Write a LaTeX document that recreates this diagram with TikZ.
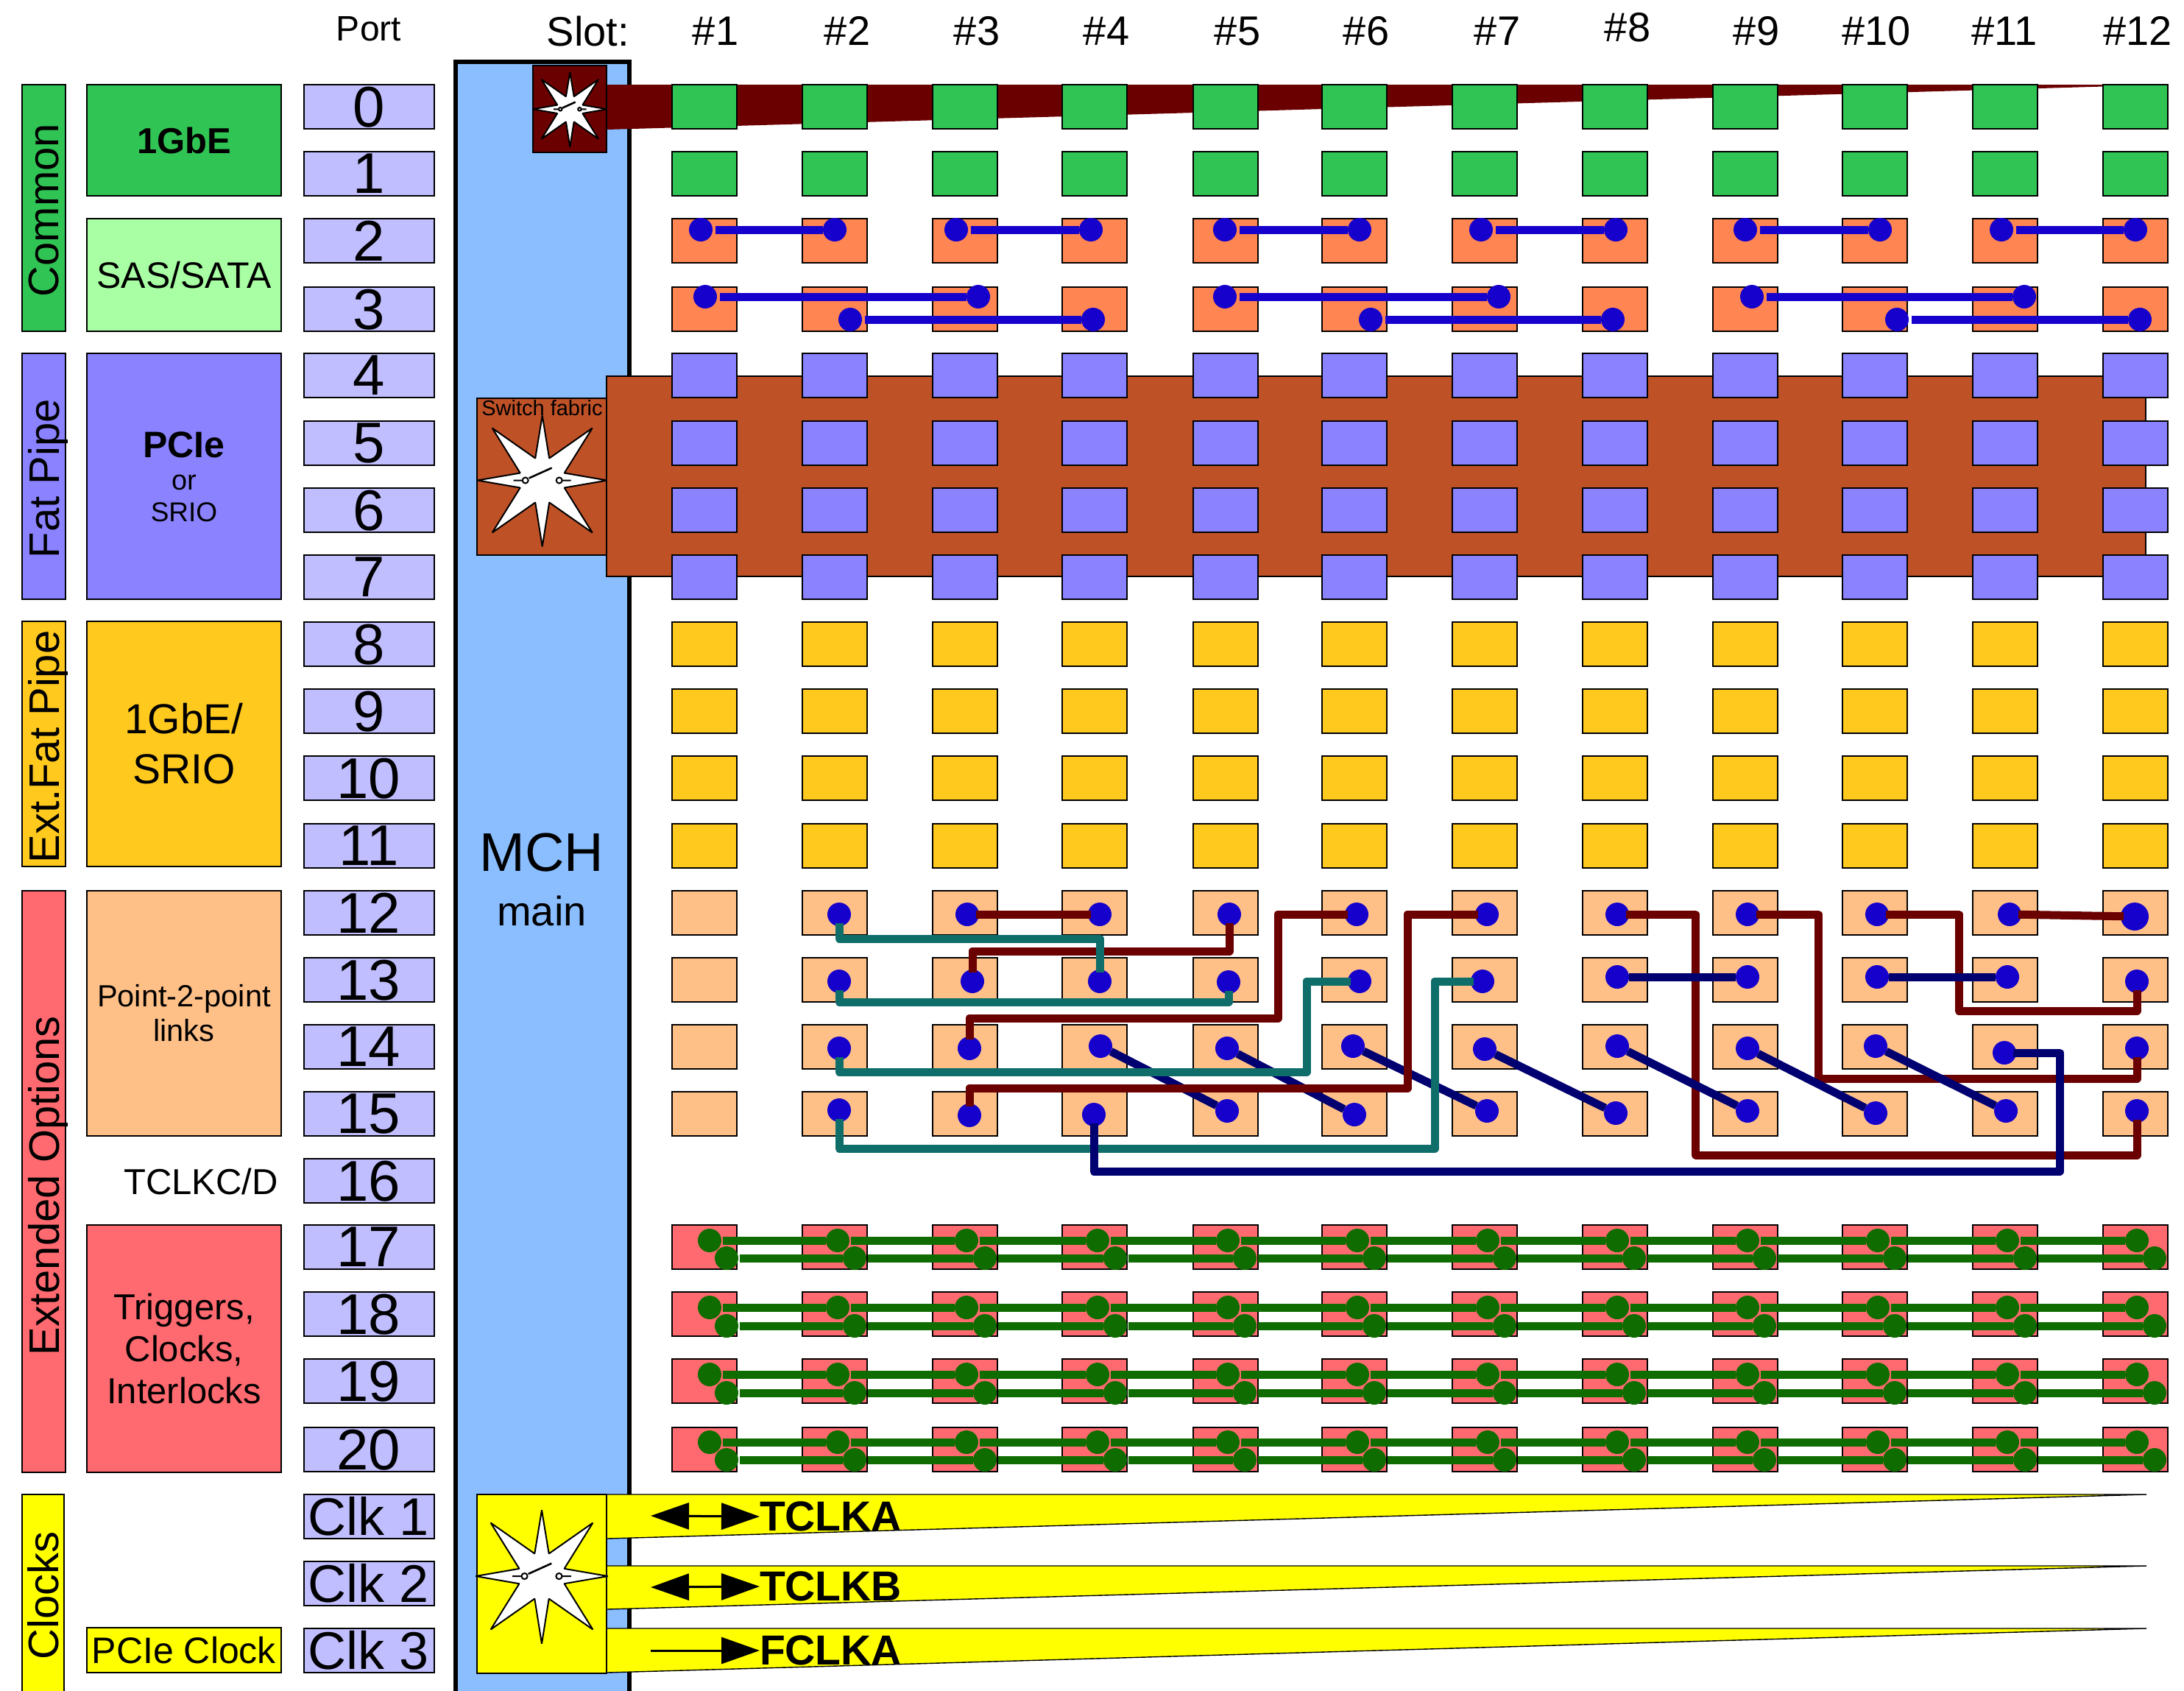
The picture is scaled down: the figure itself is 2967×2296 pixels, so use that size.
\documentclass[tikz,border=0pt]{standalone}
\usepackage{fontspec}
\setmainfont{Liberation Sans}
\usetikzlibrary{arrows.meta}
\definecolor{cgreen}{HTML}{30C454}
\definecolor{clgreen}{HTML}{A9FFA3}
\definecolor{cpurple}{HTML}{8A82FF}
\definecolor{cport}{HTML}{C0BEFF}
\definecolor{corange}{HTML}{FF8552}
\definecolor{cgold}{HTML}{FFC91E}
\definecolor{cpeach}{HTML}{FFC088}
\definecolor{cred}{HTML}{FF6A70}
\definecolor{cmch}{HTML}{8ABEFF}
\definecolor{cmaroon}{HTML}{6B0000}
\definecolor{crust}{HTML}{BF5127}
\definecolor{cyel}{HTML}{FFFF00}
\definecolor{cteal}{HTML}{0F6E6A}
\definecolor{cnavy}{HTML}{000070}
\definecolor{cblue}{HTML}{1600CC}
\definecolor{cdgreen}{HTML}{0F6C00}
\newcommand{\fsz}[1]{\fontsize{#1}{#1}\selectfont}
\newcommand{\swstar}[3]{%
  \begin{scope}[shift={(#1,#2)},scale=#3]
    \draw[fill=white,line width=0.5pt,line join=bevel] (0,-88)--(9.5,-30)--(68,-71)--(30,-10)--(88,0)--(30,10)--(68,71)--(9.5,30)--(0,90)--(-9.5,30)--(-68,71)--(-30,10)--(-88,0)--(-30,-10)--(-68,-71)--(-9.5,-30)--cycle;
    \draw[line width=0.5pt] (-39,0)--(-27.5,0) (-23,0) circle[radius=4] (23,0) circle[radius=4] (27.5,0)--(39,0);
    \draw[line width=0.65pt] (-18,-3)--(13,-17);
  \end{scope}}
\tikzset{
  box/.style={draw=black,line width=0.5pt,inner sep=0pt,outer sep=0pt},
  slotbox/.style={box,minimum width=22pt,minimum height=15pt},
  portbox/.style={box,fill=cport,minimum width=44.25pt,minimum height=15pt,text depth=0pt,font=\fsz{19.5pt}},
  lbl/.style={inner sep=0pt,outer sep=0pt,text depth=0pt},
  barlbl/.style={lbl,rotate=90,font=\fsz{14.5pt}},
  grp/.style={box,minimum width=66pt},
  bdot/.style={circle,fill=cblue,inner sep=0pt,outer sep=0pt,minimum size=8pt},
  gdot/.style={circle,fill=cdgreen,inner sep=0pt,outer sep=0pt,minimum size=8pt},
  wire/.style={line width=2.75pt,line join=round,shorten <=-1pt,shorten >=-1pt},
  bwire/.style={line width=2.75pt,color=cblue,shorten <=1pt},
  gwire/.style={line width=2.75pt,color=cdgreen,shorten <=0.6pt},
  ndiag/.style={line width=2.75pt,color=cnavy},
  clkdouble/.style={line width=0.75pt,{Triangle[length=13pt,width=9pt]}-{Triangle[length=13pt,width=9pt]}},
  clksingle/.style={line width=0.75pt,-{Triangle[length=13pt,width=9pt]}},
  clkband/.style={draw=black,fill=cyel,line width=0.35pt}
}
\begin{document}
\begin{tikzpicture}[x=0.25pt,y=-0.25pt]
\useasboundingbox (0,0) rectangle (2967,2296);
% MCH column
\draw[fill=cmch,line width=1.5pt] (619,2300) -- (619,84) -- (855,84) -- (855,2300);
\node[lbl,font=\fsz{18.5pt}] (mch) at (736,1158) {MCH};
\node[lbl,font=\fsz{14pt}] (mchmain) at (736,1237) {main};
% Headers
\node[lbl,font=\fsz{12pt}] (hport) at (501,39) {Port};
\node[lbl,font=\fsz{14pt}] (hslot) at (799,42) {Slot:};
\foreach \nm/\hx/\hy in {1/972/42,2/1151/42,3/1327/42,4/1503/42,5/1681/42,6/1856/42,7/2034/42,8/2211/37,9/2386/42,10/2549/42,11/2723/42,12/2904/42}
  \node[lbl,font=\fsz{14pt}] (h\nm) at (\hx,\hy) {\#\nm};
% Side bars
\node[box,fill=cgreen,minimum width=14.75pt,minimum height=83.75pt] (bcommon) at (59,282.5) {};
\node[barlbl] at (59,285.5) {Common};
\node[box,fill=cpurple,minimum width=14.75pt,minimum height=83.5pt] (bfat) at (59,647) {};
\node[barlbl] at (59,650) {Fat Pipe};
\node[box,fill=cgold,minimum width=14.75pt,minimum height=83.25pt] (bext) at (59,1010.5) {};
\node[barlbl] at (59,1014.5) {Ext.Fat Pipe};
\node[box,fill=cred,minimum width=14.75pt,minimum height=197.5pt] (bopt) at (59,1605) {};
\node[barlbl] at (59,1610.5) {Extended Options};
\draw[fill=cyel,line width=0.5pt] (29.5,2300) -- (29.5,2030) -- (87,2030) -- (87,2300);
\node[barlbl] (bclk) at (58,2167) {Clocks};
% Group boxes
\node[grp,fill=cgreen,minimum height=37.75pt,font=\bfseries\fsz{12.25pt}] (g1) at (250,190.5) {1GbE};
\node[grp,fill=clgreen,minimum height=38.25pt,font=\fsz{12.5pt}] (g2) at (250,373.5) {SAS/SATA};
\node[grp,fill=cpurple,minimum height=83.5pt] (g3) at (250,647) {};
\node[lbl,font=\bfseries\fsz{12.5pt}] (g3a) at (250,604) {PCIe};
\node[lbl,font=\fsz{9.5pt}] (g3b) at (250,655) {or};
\node[lbl,font=\fsz{9.25pt}] (g3c) at (250,696) {SRIO};
\node[grp,fill=cgold,minimum height=83.25pt,align=center,font=\fontsize{14.25pt}{17pt}\selectfont] (g4) at (250,1010.5) {1GbE/\\SRIO};
\node[grp,fill=cpeach,minimum height=83.25pt,align=center,font=\fontsize{10.4pt}{11.75pt}\selectfont] (g5) at (250,1376.5) {Point-2-point\\links};
\node[lbl,anchor=east,font=\fsz{12.25pt}] (g6) at (378,1605) {TCLKC/D};
\node[grp,fill=cred,minimum height=84pt,align=center,font=\fontsize{12.25pt}{14.25pt}\selectfont] (g7) at (250,1832) {Triggers,\\Clocks,\\Interlocks};
\node[grp,fill=cyel,minimum height=15.25pt,font=\fsz{12.5pt}] (g8) at (250,2241.5) {PCIe Clock};
% Port boxes
\foreach \nm/\ty in {0/115,1/206,2/297,3/390,4/480,5/572,6/663,7/754,8/845,9/936,10/1027,11/1119,12/1210,13/1301,14/1392,15/1483,16/1574,17/1664,18/1755,19/1846,20/1939}
  \node[portbox] (port\nm) at (501,{\ty+30}) {\nm};
\node[portbox,font=\fsz{18pt}] (clk1) at (501,2059.5) {Clk 1};
\node[portbox,font=\fsz{18pt}] (clk2) at (501,2150.5) {Clk 2};
\node[portbox,font=\fsz{18pt}] (clk3) at (501,2241.5) {Clk 3};
% Base channel band and switch
\fill[cmaroon] (824,115) -- (2945,115) -- (824,176) -- cycle;
\node[box,fill=cmaroon,minimum width=25pt,minimum height=29.5pt] (swbase) at (774,148) {};
\swstar{774.3}{148.3}{0.57}
% Fabric band and switch
\draw[fill=crust,line width=0.35pt] (824,511) rectangle (2915,783);
\node[box,fill=crust,minimum width=44pt,minimum height=53.25pt] (swfab) at (736,647.5) {};
\swstar{736.7}{652.5}{1}
\node[lbl,font=\fsz{7.25pt}] (fabtxt) at (736.5,554) {Switch fabric};
% Clock bands and switch
\draw[clkband] (824,2030) -- (2916,2030) -- (824,2090) -- cycle;
\draw[clkband] (824,2127) -- (2916,2127) -- (824,2186) -- cycle;
\draw[clkband] (824,2212) -- (2916,2212) -- (824,2272) -- cycle;
\node[box,fill=cyel,minimum width=44pt,minimum height=60.75pt] (swclk) at (736,2151.5) {};
\swstar{736}{2141}{1.02}
% Clock labels
\node[lbl,anchor=west,font=\bfseries\fsz{14.25pt}] (tclka) at (1032,2060) {TCLKA};
\node[lbl,anchor=west,font=\bfseries\fsz{14.25pt}] (tclkb) at (1032,2155) {TCLKB};
\node[lbl,anchor=west,font=\bfseries\fsz{14.25pt}] (fclka) at (1032,2242) {FCLKA};
\coordinate (a1) at (884,2059); \coordinate (a2) at (884,2156); \coordinate (a3) at (884,2242);
\draw[clkdouble] (a1) -- (tclka.west);
\draw[clkdouble] (a2) -- (tclkb.west);
\draw[clksingle] (a3) -- (fclka.west);
% Slot boxes
\foreach \rw/\ty/\col in {0/115/cgreen,1/206/cgreen,2/297/corange,3/390/corange,4/480/cpurple,5/572/cpurple,6/663/cpurple,7/754/cpurple,8/845/cgold,9/936/cgold,10/1027/cgold,11/1119/cgold,12/1210/cpeach,13/1301/cpeach,14/1392/cpeach,15/1483/cpeach,17/1664/cred,18/1755/cred,19/1846/cred,20/1939/cred}
  \foreach \cl/\cx in {1/957,2/1134,3/1310.5,4/1487,5/1664.5,6/1840,7/2016.5,8/2194,9/2370.5,10/2546.5,11/2724,12/2900.5}
    \node[slotbox,fill=\col] (s\rw-\cl) at (\cx,{\ty+30}) {};
% Dots, ports 2 and 3
\foreach \n/\dx/\dy in {a1/952/312,a2/1134/312,a3/1299/312,a4/1482/312,a5/1664/312,a6/1847/312,a7/2012/312,a8/2195/312,a9/2371/312,a10/2554/312,a11/2719/312,a12/2901/312,
  b1/958/403,b3/1329/403,b5/1664/403,b7/2036/403,b9/2380/403,b11/2750/403,
  c2/1155/434,c4/1485/434,c6/1862/434,c8/2191/434,c10/2577/434,c12/2907/434}
  \node[bdot] (\n) at (\dx,\dy) {};
\foreach \p/\q in {a1/a2,a3/a4,a5/a6,a7/a8,a9/a10,a11/a12,b1/b3,b5/b7,b9/b11,c2/c4,c6/c8,c10/c12}
  \draw[bwire] (\p) -- (\q);
% Dots, ports 12 to 15
\foreach \n/\dx/\dy in {
  p12s2/1140/1242,p13s2/1140/1333,p14s2/1140/1424,p15s2/1140/1508,
  p12s3/1314/1242,p13s3/1321/1333,p14s3/1317/1424,p15s3/1317/1515,
  p12s4/1494/1242,p13s4/1494/1333,p14s4/1495/1421,p15s4/1486/1514,
  p12s5/1670/1242,p13s5/1669/1334,p14s5/1667/1424,p15s5/1667/1509,
  p12s6/1843/1242,p13s6/1847/1333,p14s6/1838/1421,p15s6/1840/1514,
  p12s7/2020/1242,p13s7/2014/1333,p14s7/2017/1425,p15s7/2020/1509,
  p12s8/2197/1242,p13s8/2197/1327,p14s8/2197/1421,p15s8/2195/1512,
  p12s9/2374/1242,p13s9/2374/1327,p14s9/2374/1424,p15s9/2374/1509,
  p12s10/2550/1242,p13s10/2550/1327,p14s10/2548/1421,p15s10/2548/1512,
  p12s11/2730/1242,p13s11/2727/1327,p14s11/2723/1430,p15s11/2725/1509,
  p13s12/2903/1333,p14s12/2903/1424,p15s12/2903/1509}
  \node[bdot] (\n) at (\dx,\dy) {};
\node[bdot,minimum size=9.5pt] (p12s12) at (2900,1245) {};
% Navy diagonals under the others
\foreach \p/\q in {p14s4/p15s5,p14s5/p15s6,p14s6/p15s7,p14s7/p15s8}
  \draw[ndiag] (\p) -- (\q);
% Maroon links
\begin{scope}[every path/.append style={wire,color=cmaroon}]
\draw (p12s3) -- (p12s4);
\draw (p12s11) -- (p12s12);
\draw (p12s5.south) |- (1321,1292) -- (p13s3.north);
\draw (p14s3.north) |- (1736,1383) |- (p12s6.west);
\draw (p15s3.north) |- (1912,1478) |- (p12s7.west);
\draw (p12s8.east) -| (2303.5,1569) -| (p15s12.south);
\draw (p12s9.east) -| (2470,1465) -| (p14s12.south);
\draw (p12s10.east) -| (2661,1373) -| (p13s12.south);
\end{scope}
% Teal links
\begin{scope}[every path/.append style={wire,color=cteal}]
\draw (p12s2.south) |- (1494,1275) -- (p13s4.north);
\draw (p13s2.south) |- (1669,1361) -- (p13s5.south);
\draw (p14s2.south) |- (1775,1456) |- (p13s6.west);
\draw (p15s2.south) |- (1949,1560) |- (p13s7.west);
\end{scope}
% Navy links on top
\foreach \p/\q in {p14s8/p15s9,p14s9/p15s10,p14s10/p15s11,p13s8/p13s9,p13s10/p13s11}
  \draw[ndiag] (\p) -- (\q);
\draw[wire,color=cnavy] (p15s4.south) |- (2798,1591) |- (p14s11.east);
% Green dots and buses, ports 17 to 20
\foreach \rw/\uy/\ly in {17/1685/1709,18/1776/1801,19/1867/1892,20/1959/1983}{
  \foreach \cl/\ux/\lx in {1/964/987,2/1138/1161,3/1313/1338,4/1491/1515,5/1668/1691,6/1844/1867,7/2021/2044,8/2197/2220,9/2374/2397,10/2551/2574,11/2727/2751,12/2903/2927}{
    \node[gdot] (u\rw-\cl) at (\ux,\uy) {};
    \node[gdot] (l\rw-\cl) at (\lx,\ly) {};
  }
  \foreach \cl/\cn in {1/2,2/3,3/4,4/5,5/6,6/7,7/8,8/9,9/10,10/11,11/12}{
    \draw[gwire] (u\rw-\cl) -- (u\rw-\cn);
    \draw[gwire] (l\rw-\cl) -- (l\rw-\cn);
  }
}
\end{tikzpicture}
\end{document}
